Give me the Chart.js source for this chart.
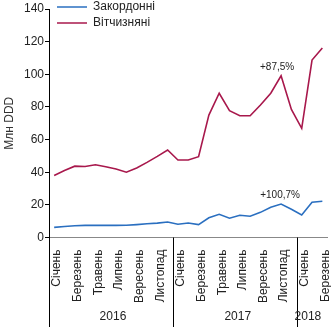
<!DOCTYPE html>
<html lang="uk">
<head>
<meta charset="utf-8">
<title>Млн DDD</title>
<script src="https://cdn.jsdelivr.net/npm/chart.js@4.4.0/dist/chart.umd.min.js"></script>
<style>
  html, body { margin: 0; padding: 0; background: #fff; }
  #wrap { width: 331px; height: 331px; }
</style>
</head>
<body>
<div id="wrap"><canvas id="chart" width="331" height="331"></canvas></div>
<script>
// Jan 2016 .. Mar 2018
const categories = [
    'Січень', 'Лютий', 'Березень', 'Квітень', 'Травень', 'Червень',
    'Липень', 'Серпень', 'Вересень', 'Жовтень', 'Листопад', 'Грудень',
    'Січень', 'Лютий', 'Березень', 'Квітень', 'Травень', 'Червень',
    'Липень', 'Серпень', 'Вересень', 'Жовтень', 'Листопад', 'Грудень',
    'Січень', 'Лютий', 'Березень'
];
const years = ['2016', '2017', '2018'];
const yearStarts = [0, 12, 24];

const foreign = [6.2, 6.7, 7.2, 7.4, 7.4, 7.4, 7.4, 7.5, 7.9, 8.4, 8.8, 9.5,
                 8.1, 8.9, 7.9, 12.1, 14.2, 11.8, 13.6, 13.0, 15.4, 18.5, 20.5, 17.3,
                 13.8, 21.6, 22.2];
const domestic = [38, 41, 43.7, 43.5, 44.6, 43.4, 42, 40, 42.6, 46, 49.7, 53.6,
                  47.5, 47.5, 49.5, 75, 88.4, 77.7, 74.6, 74.6, 81.2, 88.4, 99.1, 78.5,
                  66.9, 108.7, 116.1];

const yTicks = [0, 20, 40, 60, 80, 100, 120, 140];
const notes = [
    { text: '+87,5%', series: 1, index: 22 },
    { text: '+100,7%', series: 0, index: 22 }
];

const FONT = '"Liberation Sans", Arial, sans-serif';
const font12 = { family: FONT, size: 12 };

// year groups under the month labels, plus the % notes
const yearMarks = {
    id: 'yearMarks',
    afterDraw(chart) {
        const { ctx, chartArea, scales: { x, y } } = chart;
        const lowEdge = 327;
        ctx.save();
        ctx.strokeStyle = '#000';
        ctx.lineWidth = 1;
        const seps = [chartArea.left];
        yearStarts.slice(1).forEach(i => {
            seps.push((x.getPixelForValue(i - 1) + x.getPixelForValue(i)) / 2);
        });
        seps.forEach(px => {
            const sx = Math.round(px) + 0.5;
            ctx.beginPath();
            ctx.moveTo(sx, chartArea.bottom);
            ctx.lineTo(sx, lowEdge);
            ctx.stroke();
        });

        ctx.fillStyle = '#222';
        ctx.textAlign = 'center';
        ctx.textBaseline = 'middle';
        ctx.font = '12px ' + FONT;
        const centers = [5.7, 17.8, 24.6];
        years.forEach((yr, k) => {
            ctx.fillText(yr, x.getPixelForValue(centers[k]), 317);
        });

        ctx.font = '10px ' + FONT;
        const shiftX = [-1, -4];
        notes.forEach(n => {
            const v = chart.data.datasets[n.series].data[n.index];
            ctx.fillText(n.text, x.getPixelForValue(n.index) + shiftX[n.series], y.getPixelForValue(v) - 9);
        });
        ctx.restore();
    }
};

// nudge the in-plot legend into the corner
const legendShift = {
    id: 'legendShift',
    afterLayout(chart) {
        chart.legend.left += 4;
        chart.legend.top -= 3;
    }
};

const ctx = document.getElementById('chart').getContext('2d');
const chart = new Chart(ctx, {
    type: 'line',
    data: {
        labels: categories,
        datasets: [{
            label: 'Закордонні',
            data: foreign,
            borderColor: '#2a6fc0',
            backgroundColor: '#2a6fc0',
            borderWidth: 1.6,
            pointRadius: 0,
            fill: false,
            tension: 0
        }, {
            label: 'Вітчизняні',
            data: domestic,
            borderColor: '#a8184c',
            backgroundColor: '#a8184c',
            borderWidth: 1.6,
            pointRadius: 0,
            fill: false,
            tension: 0
        }]
    },
    options: {
        responsive: false,
        animation: false,
        layout: { padding: { top: 9, right: 3.5, left: 0, bottom: 0 } },
        plugins: {
            tooltip: { enabled: false },
            legend: {
                position: 'chartArea',
                align: 'start',
                labels: {
                    usePointStyle: true,
                    pointStyle: 'line',
                    pointStyleWidth: 30,
                    padding: 4,
                    color: '#222',
                    font: font12
                }
            }
        },
        scales: {
            x: {
                offset: true,
                grid: { display: false },
                border: { color: '#888' },
                ticks: {
                    autoSkip: false,
                    minRotation: 90,
                    maxRotation: 90,
                    padding: 4,
                    labelOffset: 3,
                    color: '#222',
                    font: font12,
                    callback(v, i) { return i % 2 === 0 ? this.getLabelForValue(v) : ''; }
                },
                afterFit(scale) {
                    scale.height = 93.5;
                    scale.paddingLeft = 0;
                    scale.paddingRight = 0;
                }
            },
            y: {
                min: 0,
                max: 140,
                afterBuildTicks(scale) { scale.ticks = yTicks.map(v => ({ value: v })); },
                ticks: { padding: 1, color: '#222', font: font12 },
                grid: { drawOnChartArea: false, tickLength: 4, color: '#000' },
                border: { color: '#000' },
                title: {
                    display: true,
                    text: 'Млн DDD',
                    color: '#333',
                    font: font12,
                    padding: { top: 2, bottom: 0 }
                },
                afterFit(scale) { scale.width = 49; }
            }
        }
    },
    plugins: [yearMarks, legendShift]
});
</script>
</body>
</html>
